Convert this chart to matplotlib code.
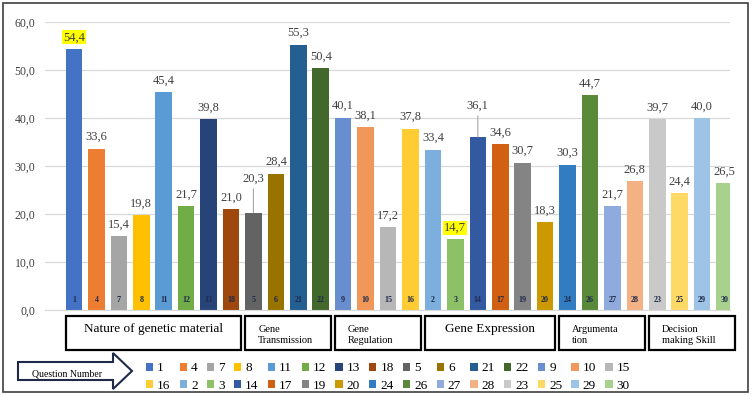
import matplotlib
matplotlib.use("Agg")
import matplotlib.pyplot as plt
from matplotlib.patches import Rectangle, Polygon
from matplotlib.transforms import blended_transform_factory, offset_copy

plt.rcParams['font.family'] = ['Liberation Serif', 'DejaVu Serif']

# question numbers in plotted order, and their scores
questions = [1, 4, 7, 8, 11, 12, 13, 18, 5, 6, 21, 22, 9, 10, 15, 16,
             2, 3, 14, 17, 19, 20, 24, 26, 27, 28, 23, 25, 29, 30]
scores = [54.4, 33.6, 15.4, 19.8, 45.4, 21.7, 39.8, 21.0, 20.3, 28.4, 55.3, 50.4,
          40.1, 38.1, 17.2, 37.8, 33.4, 14.7, 36.1, 34.6, 30.7, 18.3, 30.3, 44.7,
          21.7, 26.8, 39.7, 24.4, 40.0, 26.5]
colors = ['#4472C4', '#ED7D31', '#A5A5A5', '#FFC000', '#5B9BD5', '#70AD47',
          '#264478', '#9E480E', '#636363', '#997300', '#255E91', '#43682B',
          '#698ED0', '#F1975A', '#B7B7B7', '#FFCD33', '#7CAFDD', '#8CC168',
          '#335AA1', '#D26012', '#848484', '#CC9A00', '#327DC2', '#5A8A39',
          '#8FAADC', '#F4B183', '#C9C9C9', '#FFD966', '#9DC3E6', '#A9D18E']
groups = ["Nature of genetic material", "Gene\nTransmission", "Gene\nRegulation",
          "Gene Expression", "Argumenta\ntion", "Decision\nmaking Skill"]
group_sizes = [8, 4, 4, 6, 4, 4]
highlighted = [54.4, 14.7]   # labels with yellow marker
raised = {8: 16, 18: 14}     # index -> extra label lift (pt), drawn with leader line

W, H = 752, 395
fig = plt.figure(figsize=(W / 100, H / 100), dpi=100)


def px(x, y):
    return x / W, 1 - y / H


ax = fig.add_axes([45 / W, 85 / H, 685 / W, 288 / H])
x = list(range(len(scores)))
bars = ax.bar(x, scores, width=0.74, color=colors, label=[str(q) for q in questions], zorder=2)

ax.set_ylim(0, 60)
ax.set_xlim(-1.29, 29.24)
ax.set_yticks(range(0, 61, 10))
ax.set_yticklabels([f"{v:.1f}".replace('.', ',') for v in range(0, 61, 10)],
                   fontsize=8.5, color='#404040')
ax.set_xticks([])
ax.tick_params(axis='y', length=0, pad=7)
ax.grid(axis='y', color='#D9D9D9', lw=0.9, zorder=0)
for s in ['top', 'right', 'left']:
    ax.spines[s].set_visible(False)
ax.spines['bottom'].set_color('#D9D9D9')

for i, (v, q) in enumerate(zip(scores, questions)):
    lab = f"{v:.1f}".replace('.', ',')
    kw = dict(ha='center', va='bottom', fontsize=9, color='#404040')
    if v in highlighted:
        kw['bbox'] = dict(facecolor='#FFFF00', edgecolor='none', pad=0.6)
    if i in raised:
        ax.annotate(lab, (i, v), xytext=(0, 4 + raised[i]), textcoords='offset points',
                    arrowprops=dict(arrowstyle='-', color='#A6A6A6', lw=0.8,
                                    shrinkA=1, shrinkB=0), **kw)
    else:
        ax.annotate(lab, (i, v), xytext=(0, 4), textcoords='offset points', **kw)
    ax.text(i, 2.1, str(q), ha='center', va='center', fontsize=5.8,
            fontweight='bold', color='#1F2A4A', zorder=3)

# group boxes under the axis
bt = blended_transform_factory(ax.transData, fig.transFigure)
y0, y1 = 1 - 350 / H, 1 - 316 / H
start = 0
for name, n in zip(groups, group_sizes):
    a, b = start - 0.37, start + n - 1 + 0.45
    fig.patches.append(Rectangle((a, y0), b - a, y1 - y0, transform=bt, fill=False,
                                 edgecolor='black', lw=1.6, clip_on=False))
    if '\n' in name:
        t = offset_copy(bt, fig=fig, x=13, y=0, units='dots')
        fig.text(a, 1 - 335 / H, name, transform=t, ha='left', va='center',
                 fontsize=7.5, linespacing=1.2, color='black')
    else:
        fig.text((a + b) / 2, 1 - 329 / H, name, transform=bt, ha='center',
                 va='center', fontsize=9.5, color='black')
    start += n

# legend, filled row by row like the original
handles, labels = ax.get_legend_handles_labels()
order = [k for c in range(15) for k in (c, c + 15)]
fig.legend([handles[k] for k in order], [labels[k] for k in order], ncol=15,
           loc='center left', bbox_to_anchor=px(146, 377), frameon=False,
           fontsize=9.5, handlelength=0.55, handleheight=0.55, handletextpad=0.3,
           columnspacing=0.7, labelspacing=0.4, borderpad=0, borderaxespad=0)

# "Question Number" block arrow
arrow = [px(18, 362), px(113, 362), px(113, 353), px(132, 371),
         px(113, 389), px(113, 380), px(18, 380)]
fig.patches.append(Polygon(arrow, closed=True, transform=fig.transFigure,
                           facecolor='white', edgecolor='#1F2A4A', lw=1.5))
fig.text(*px(67, 374), "Question Number", ha='center', va='center', fontsize=7,
         color='black')

# outer frame
fig.patches.append(Rectangle(px(3, 392), 745 / W, 389 / H, transform=fig.transFigure,
                             fill=False, edgecolor='#404040', lw=1.2))

fig.savefig("out.png", dpi=100)
